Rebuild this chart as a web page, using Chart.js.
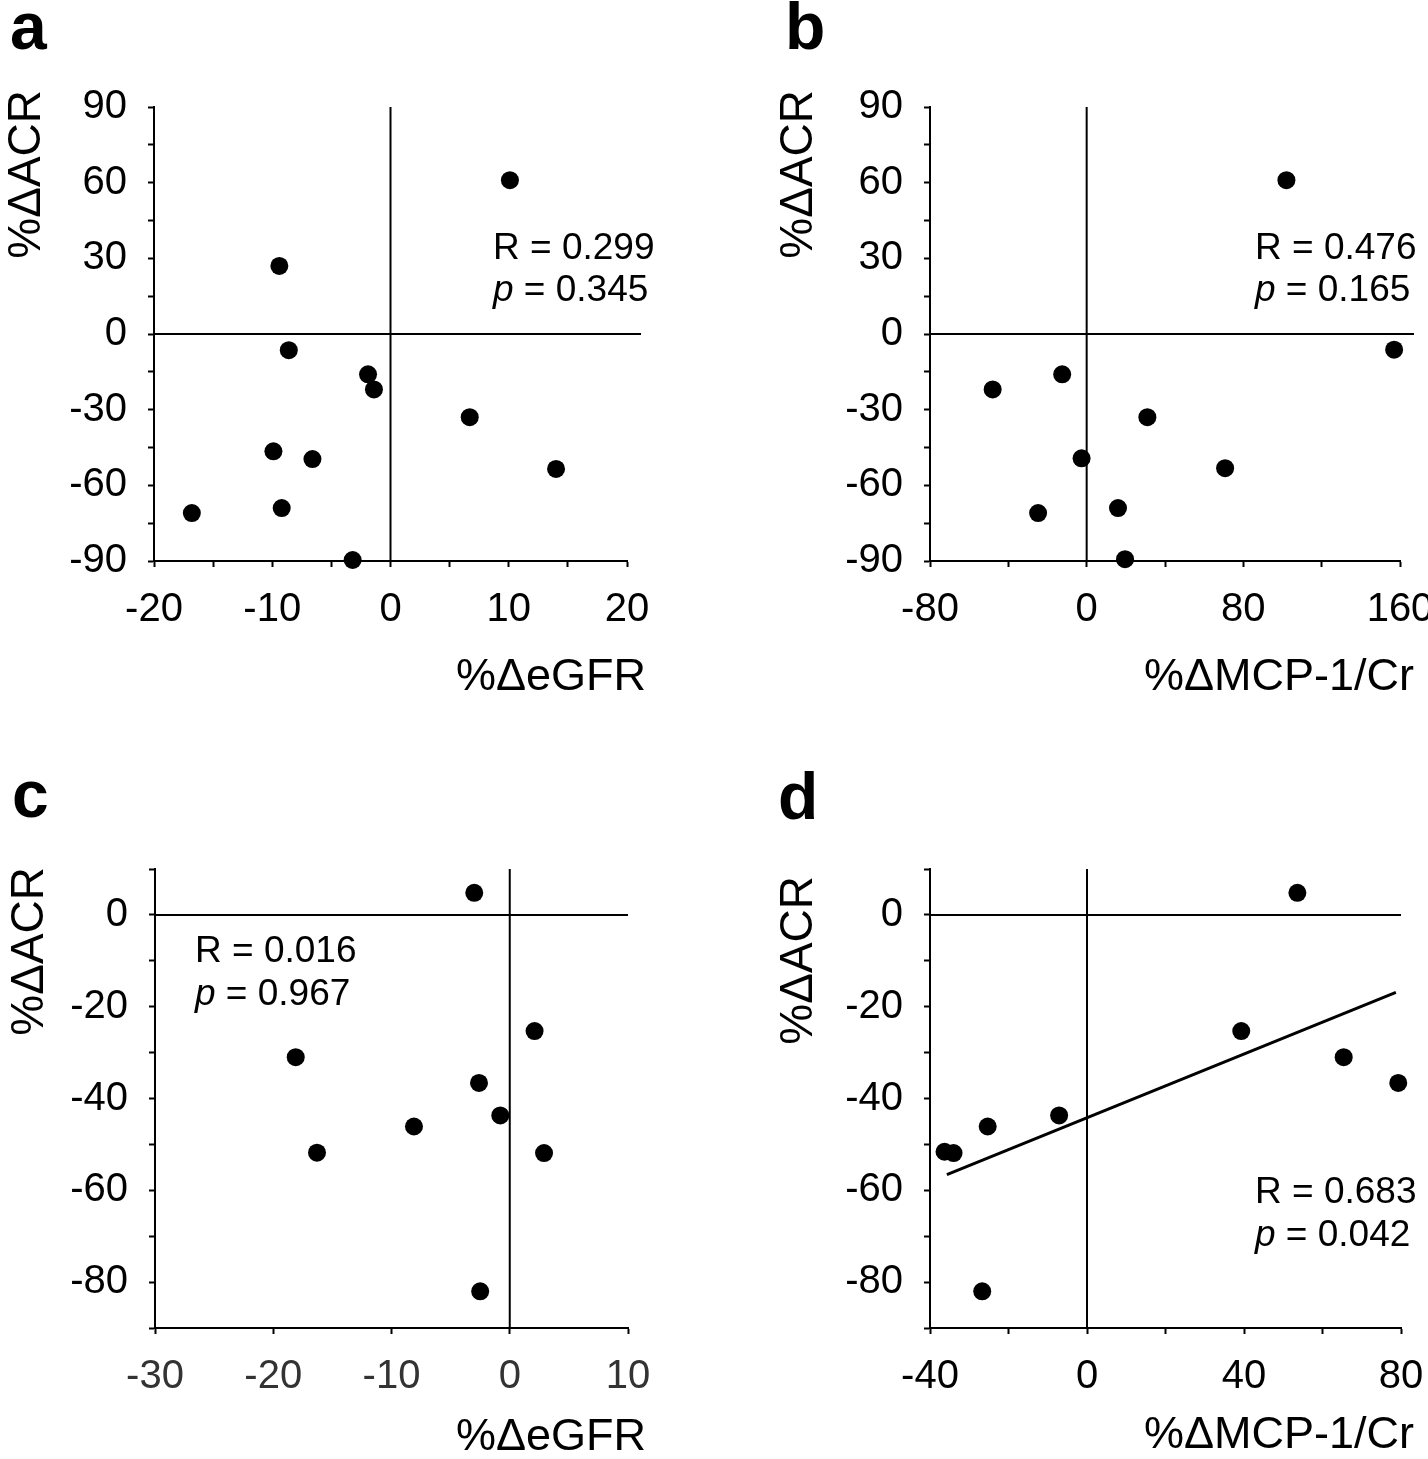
<!DOCTYPE html>
<html>
<head>
<meta charset="utf-8">
<script src="https://cdn.jsdelivr.net/npm/chart.js@4.4.1/dist/chart.umd.min.js"></script>
<style>
  html, body { margin: 0; padding: 0; background: #fff; }
  #page { position: relative; width: 1428px; height: 1459px; overflow: hidden; }
  canvas { position: absolute; display: block; }
</style>
</head>
<body>
<div id="page">
  <canvas id="chartA" width="714" height="730" style="left:0;top:0"></canvas>
  <canvas id="chartB" width="714" height="730" style="left:714px;top:0"></canvas>
  <canvas id="chartC" width="714" height="729" style="left:0;top:730px"></canvas>
  <canvas id="chartD" width="714" height="729" style="left:714px;top:730px"></canvas>
</div>
<script>
const FONT = '"Liberation Sans", Arial, Helvetica, sans-serif';

// a: %dACR vs %deGFR
const egfrA = [10.1, -9.4, -8.6, -1.9, -1.4, 6.7, -9.9, -6.6, 14.0, -16.8, -9.2, -3.2];
const acrA  = [61, 27, -6.4, -16, -22, -33, -46.5, -49.6, -53.5, -71, -69, -89.6];

// b: %dACR vs %dMCP-1/Cr
const mcpB = [102, 157, -48, -12.5, 31, -2.6, 70.7, -24.8, 16, 19.6];
const acrB = [61, -6.2, -22, -16, -33, -49.3, -53.2, -71, -69, -89.3];

// c: %dACR vs %deGFR
const egfrC = [-3.0, 2.1, -18.1, -2.6, -0.8, -8.1, -16.3, 2.9, -2.5];
const acrC  = [4.8, -25.3, -31, -36.6, -43.7, -46.1, -51.8, -51.9, -82];

// d: %dACR vs %dMCP-1/Cr, with fitted line
const mcpD = [53.6, 39.3, 65.4, 79.3, -7.1, -25.3, -36.3, -34.0, -26.7];
const acrD = [4.8, -25.3, -31, -36.6, -43.7, -46.1, -51.6, -51.9, -82];
const fitXD = [-35.7, 78.7];
const fitYD = [-56.6, -16.9];

const statsA = ['R = 0.299', 'p = 0.345'];
const statsB = ['R = 0.476', 'p = 0.165'];
const statsC = ['R = 0.016', 'p = 0.967'];
const statsD = ['R = 0.683', 'p = 0.042'];

const pts = (xs, ys) => xs.map((x, i) => ({ x: x, y: ys[i] }));

// zero lines, panel letter, axis titles and R / p text
const panelText = {
  id: 'panelText',
  beforeDatasetsDraw(chart, args, o) {
    const ctx = chart.ctx, area = chart.chartArea;
    const x0 = chart.scales.x.getPixelForValue(0);
    const y0 = chart.scales.y.getPixelForValue(0);
    ctx.save();
    ctx.strokeStyle = '#000';
    ctx.lineWidth = 2;
    ctx.beginPath();
    ctx.moveTo(x0, area.top);
    ctx.lineTo(x0, area.bottom);
    ctx.moveTo(area.left, y0);
    ctx.lineTo(area.right + (o.zeroExtend || 0), y0);
    ctx.stroke();
    ctx.restore();
  },
  afterDraw(chart, args, o) {
    const ctx = chart.ctx;
    ctx.save();
    ctx.fillStyle = '#000';
    ctx.textBaseline = 'alphabetic';

    ctx.font = 'bold 66px ' + FONT;
    ctx.textAlign = 'left';
    ctx.fillText(o.letter.text, o.letter.x, o.letter.y);

    ctx.font = '45px ' + FONT;
    ctx.textAlign = 'right';
    ctx.fillText(o.xTitle.text, o.xTitle.x, o.xTitle.y);

    ctx.save();
    ctx.font = '46px ' + FONT;
    ctx.translate(o.yTitle.x, o.yTitle.y);
    ctx.rotate(-Math.PI / 2);
    ctx.textAlign = 'right';
    ctx.fillText(o.yTitle.text, 0, 0);
    ctx.restore();

    ctx.textAlign = 'left';
    o.stats.lines.forEach((line, i) => {
      let x = o.stats.x;
      const y = o.stats.y[i];
      if (line.startsWith('p')) {
        ctx.font = 'italic 37px ' + FONT;
        ctx.fillText('p', x, y);
        x += ctx.measureText('p').width;
        ctx.font = '37px ' + FONT;
        ctx.fillText(line.slice(1), x, y);
      } else {
        ctx.font = '37px ' + FONT;
        ctx.fillText(line, x, y);
      }
    });
    ctx.restore();
  }
};

function axis(min, max, step, every, size, isY, labelColor) {
  return {
    type: 'linear',
    position: isY ? 'left' : 'bottom',
    min: min,
    max: max,
    afterFit: s => {
      if (isY) { s.width = size; s.paddingTop = 0; s.paddingBottom = 0; }
      else { s.height = size; s.paddingLeft = 0; s.paddingRight = 0; }
    },
    ticks: {
      stepSize: step,
      maxTicksLimit: 100,
      autoSkip: false,
      maxRotation: 0,
      color: labelColor || '#000',
      padding: isY ? 21 : 19,
      font: { family: FONT, size: 40 },
      callback: v => (Math.abs(v % every) < 1e-9 ? String(v) : '')
    },
    grid: { drawOnChartArea: false, drawTicks: true, tickLength: 6, tickColor: '#000', tickWidth: 2 },
    border: { display: true, color: '#000', width: 2 }
  };
}

function dots(xs, ys) {
  return {
    type: 'scatter',
    data: pts(xs, ys),
    backgroundColor: '#000',
    borderWidth: 0,
    pointRadius: 9,
    pointHoverRadius: 9,
    clip: false
  };
}

function makeChart(id, datasets, xs, ys, padding, text) {
  return new Chart(document.getElementById(id), {
    type: 'scatter',
    data: { datasets: datasets },
    options: {
      responsive: false,
      animation: false,
      events: [],
      layout: { padding: padding },
      plugins: { legend: { display: false }, tooltip: { enabled: false }, panelText: text },
      scales: { x: xs, y: ys }
    },
    plugins: [panelText]
  });
}

makeChart('chartA', [dots(egfrA, acrA)],
  axis(-20, 20, 5, 10, 100, false),
  axis(-90, 90, 15, 30, 154, true),
  { top: 107, right: 87, bottom: 69, left: 0 },
  { letter: { text: 'a', x: 10, y: 49 }, xTitle: { text: '%ΔeGFR', x: 646, y: 690 },
    yTitle: { text: '%ΔACR', x: 40, y: 90 }, stats: { lines: statsA, x: 493, y: [259, 301] }, zeroExtend: 14 });

makeChart('chartB', [dots(mcpB, acrB)],
  axis(-80, 160, 40, 80, 100, false),
  axis(-90, 90, 15, 30, 216, true),
  { top: 107, right: 28, bottom: 69, left: 0 },
  { letter: { text: 'b', x: 71, y: 49 }, xTitle: { text: '%ΔMCP-1/Cr', x: 700, y: 690 },
    yTitle: { text: '%ΔACR', x: 98, y: 90 }, stats: { lines: statsB, x: 541, y: [259, 301] }, zeroExtend: 14 });

makeChart('chartC', [dots(egfrC, acrC)],
  axis(-30, 10, 10, 10, 100, false, '#333'),
  axis(-90, 10, 10, 20, 155, true),
  { top: 139, right: 86, bottom: 31, left: 0 },
  { letter: { text: 'c', x: 12, y: 87 }, xTitle: { text: '%ΔeGFR', x: 646, y: 720 },
    yTitle: { text: '%ΔACR', x: 43, y: 137 }, stats: { lines: statsC, x: 195, y: [232, 275] }, zeroExtend: 0 });

makeChart('chartD', [
    dots(mcpD, acrD),
    { type: 'line', data: pts(fitXD, fitYD), borderColor: '#000', borderWidth: 3, pointRadius: 0, fill: false, clip: false }
  ],
  axis(-40, 80, 20, 40, 100, false),
  axis(-90, 10, 10, 20, 216, true),
  { top: 139, right: 27, bottom: 31, left: 0 },
  { letter: { text: 'd', x: 64, y: 89 }, xTitle: { text: '%ΔMCP-1/Cr', x: 700, y: 718 },
    yTitle: { text: '%ΔACR', x: 98, y: 146 }, stats: { lines: statsD, x: 541, y: [473, 516] }, zeroExtend: 0 });
</script>
</body>
</html>
